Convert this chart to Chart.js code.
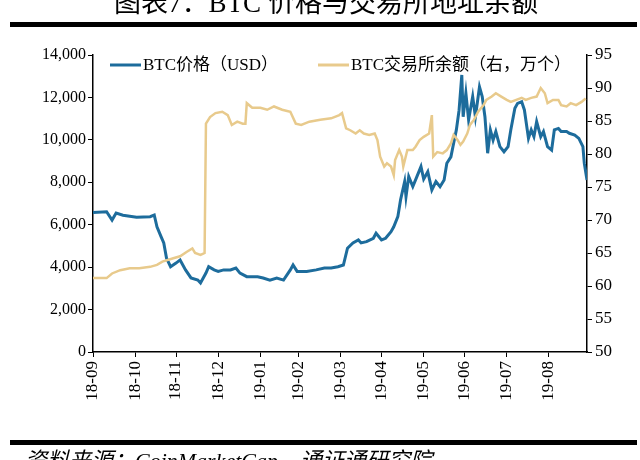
<!DOCTYPE html>
<html>
<head>
<meta charset="utf-8">
<script src="https://cdn.jsdelivr.net/npm/chart.js@4.4.1/dist/chart.umd.min.js"></script>
<style>
    html, body { margin: 0; padding: 0; background: #ffffff; }
    #wrap { width: 640px; height: 460px; position: relative; }
</style>
</head>
<body>
<div id="wrap"><canvas id="btcChart"></canvas></div>
<script>
// Chart data (days counted from 2018-09-30)

const monthDays = [0, 31, 61, 92, 123, 151, 182, 212, 243, 273, 304, 335];
const monthLabels = ['18-09', '18-10', '18-11', '18-12', '19-01', '19-02', '19-03', '19-04', '19-05', '19-06', '19-07', '19-08'];

const priceDays = [0, 10, 14, 17, 22, 32, 42, 45, 47, 50, 52, 54, 57, 61, 64, 68, 72, 77, 79, 83, 85, 89, 92, 96, 101, 105, 108, 113, 121, 125, 130, 135, 140, 145, 147, 150, 157, 164, 170, 175, 180, 184, 187, 191, 195, 197, 201, 206, 208, 212, 215, 219, 221, 224, 226, 229, 230, 232, 235, 238, 241, 243, 246, 249, 252, 255, 258, 260, 263, 265, 267, 269, 271, 272, 274, 276, 279, 281, 284, 286, 288, 290, 292, 294, 296, 299, 302, 305, 307, 310, 312, 315, 317, 320, 322, 324, 326, 329, 331, 334, 337, 339, 342, 344, 348, 350, 354, 357, 360, 361, 363];
const priceUsd = [6570, 6610, 6220, 6550, 6450, 6350, 6380, 6460, 5900, 5440, 5140, 4430, 4020, 4190, 4340, 3870, 3490, 3390, 3250, 3720, 4020, 3870, 3800, 3870, 3870, 3960, 3720, 3550, 3550, 3490, 3390, 3490, 3390, 3870, 4100, 3800, 3800, 3870, 3960, 3960, 4020, 4100, 4890, 5140, 5280, 5140, 5200, 5360, 5600, 5280, 5360, 5670, 5900, 6380, 7170, 8030, 7320, 8270, 7800, 8270, 8740, 8150, 8500, 7640, 8030, 7790, 8110, 8900, 9200, 9840, 10470, 11400, 13060, 11090, 12200, 10940, 12040, 11090, 12500, 12040, 11090, 9370, 10470, 9990, 10390, 9680, 9440, 9680, 10470, 11490, 11720, 11800, 11410, 10070, 10470, 10150, 10860, 10150, 10390, 9680, 9520, 10470, 10540, 10390, 10390, 10310, 10230, 10070, 9680, 8900, 8110];

const balanceDays = [0, 10, 14, 20, 27, 34, 42, 47, 51, 59, 64, 69, 73, 75, 79, 82, 83, 86, 90, 95, 99, 102, 106, 110, 112, 113, 117, 123, 128, 133, 139, 145, 149, 153, 159, 167, 175, 181, 183, 186, 189, 193, 196, 199, 203, 207, 209, 211, 214, 216, 219, 221, 222, 225, 227, 228, 231, 235, 237, 240, 243, 247, 249, 250, 253, 257, 260, 263, 265, 268, 270, 272, 275, 277, 280, 283, 287, 289, 293, 296, 300, 304, 307, 311, 315, 318, 322, 326, 329, 332, 334, 338, 342, 344, 348, 351, 355, 359, 362];
const balanceWan = [61.2, 61.2, 61.9, 62.4, 62.7, 62.7, 62.9, 63.2, 63.7, 64.2, 64.5, 65.2, 65.7, 65.0, 64.7, 65.0, 84.6, 85.6, 86.2, 86.4, 85.9, 84.4, 84.9, 84.6, 84.6, 87.7, 87.0, 87.0, 86.7, 87.2, 86.7, 86.4, 84.6, 84.4, 84.9, 85.2, 85.4, 85.9, 86.2, 83.9, 83.6, 83.1, 83.6, 83.1, 82.9, 83.1, 82.1, 79.6, 78.1, 78.6, 78.1, 76.8, 79.1, 80.6, 79.6, 78.1, 80.6, 80.6, 81.1, 82.1, 82.6, 83.1, 85.9, 79.6, 80.3, 80.1, 80.6, 81.6, 82.9, 82.1, 81.4, 81.9, 83.1, 84.4, 85.2, 86.4, 87.4, 88.2, 88.7, 89.2, 88.7, 88.2, 87.9, 88.2, 88.5, 88.2, 88.5, 88.7, 90.0, 89.2, 87.7, 88.2, 88.2, 87.4, 87.2, 87.7, 87.4, 87.9, 88.4];

const priceLabel = 'BTC价格（USD）';
const balanceLabel = 'BTC交易所余额（右，万个）';
const titleText = '图表7：BTC 价格与交易所地址余额';
const sourceText = '资料来源：CoinMarketCap，通证通研究院';

const BLUE = '#1D6C9C';
const GOLD = '#E8CA8C';
const SERIF = '"Liberation Serif", "Noto Sans CJK SC", serif';

// Title, rules, source note and in-plot legend
const decorPlugin = {
    id: 'decor',
    afterDraw(chart) {
        const ctx = chart.ctx;
        ctx.save();

        // title (cut off at the top like the original)
        ctx.fillStyle = '#000';
        ctx.textAlign = 'center';
        ctx.textBaseline = 'alphabetic';
        ctx.font = '27px ' + SERIF;
        ctx.fillText(titleText, 326, 12);

        // thick rules
        ctx.fillRect(10, 22, 627, 5);
        ctx.fillRect(10, 440, 627, 5);

        // source line
        ctx.textAlign = 'left';
        ctx.font = 'italic 22px ' + SERIF;
        ctx.fillText(sourceText, 25, 468);

        // legend
        const items = [
            { color: BLUE, text: priceLabel, x: 110 },
            { color: GOLD, text: balanceLabel, x: 318 }
        ];
        ctx.font = '17px ' + SERIF;
        ctx.textBaseline = 'middle';
        items.forEach(item => {
            ctx.strokeStyle = item.color;
            ctx.lineWidth = 3;
            ctx.beginPath();
            ctx.moveTo(item.x, 65);
            ctx.lineTo(item.x + 31, 65);
            ctx.stroke();
            ctx.fillStyle = '#000';
            ctx.fillText(item.text, item.x + 33, 66);
        });

        ctx.restore();
    }
};

const toPoints = (xs, ys) => xs.map((d, i) => ({ x: d, y: ys[i] }));

const ctx = document.getElementById('btcChart');

new Chart(ctx, {
    type: 'line',
    data: {
        datasets: [
            {
                label: priceLabel,
                data: toPoints(priceDays, priceUsd),
                yAxisID: 'y',
                borderColor: BLUE,
                borderWidth: 3,
                pointRadius: 0,
                tension: 0,
                order: 1
            },
            {
                label: balanceLabel,
                data: toPoints(balanceDays, balanceWan),
                yAxisID: 'y1',
                borderColor: GOLD,
                borderWidth: 2.5,
                pointRadius: 0,
                tension: 0,
                order: 0
            }
        ]
    },
    options: {
        responsive: true,
        maintainAspectRatio: false,
        animation: false,
        layout: {
            padding: { top: 55, left: 0, right: 0, bottom: 0 }
        },
        plugins: {
            legend: { display: false },
            tooltip: { enabled: false }
        },
        scales: {
            x: {
                type: 'linear',
                min: 0,
                max: 363,
                afterBuildTicks: (scale) => {
                    scale.ticks = monthDays.map(v => ({ value: v }));
                },
                afterFit: (scale) => { scale.height = 108; },
                border: { display: true, color: '#000', width: 1.5 },
                grid: {
                    drawOnChartArea: false,
                    color: '#000',
                    tickLength: 5
                },
                ticks: {
                    autoSkip: false,
                    minRotation: 90,
                    maxRotation: 90,
                    padding: 4,
                    color: '#000',
                    font: { family: SERIF, size: 17 },
                    callback: (value) => monthLabels[monthDays.indexOf(value)]
                }
            },
            y: {
                position: 'left',
                min: 0,
                max: 14000,
                afterFit: (scale) => { scale.width = 93; },
                border: { display: true, color: '#000', width: 1.5 },
                grid: {
                    drawOnChartArea: false,
                    color: '#000',
                    tickLength: 5
                },
                ticks: {
                    stepSize: 2000,
                    padding: 2,
                    color: '#000',
                    font: { family: SERIF, size: 16 },
                    callback: (value) => value.toLocaleString('en-US')
                }
            },
            y1: {
                position: 'right',
                min: 50,
                max: 95,
                afterFit: (scale) => { scale.width = 53; },
                border: { display: true, color: '#000', width: 1.5 },
                grid: {
                    drawOnChartArea: false,
                    color: '#000',
                    tickLength: 5
                },
                ticks: {
                    stepSize: 5,
                    padding: 3,
                    color: '#000',
                    font: { family: SERIF, size: 17 }
                }
            }
        }
    },
    plugins: [decorPlugin]
});
</script>
</body>
</html>
